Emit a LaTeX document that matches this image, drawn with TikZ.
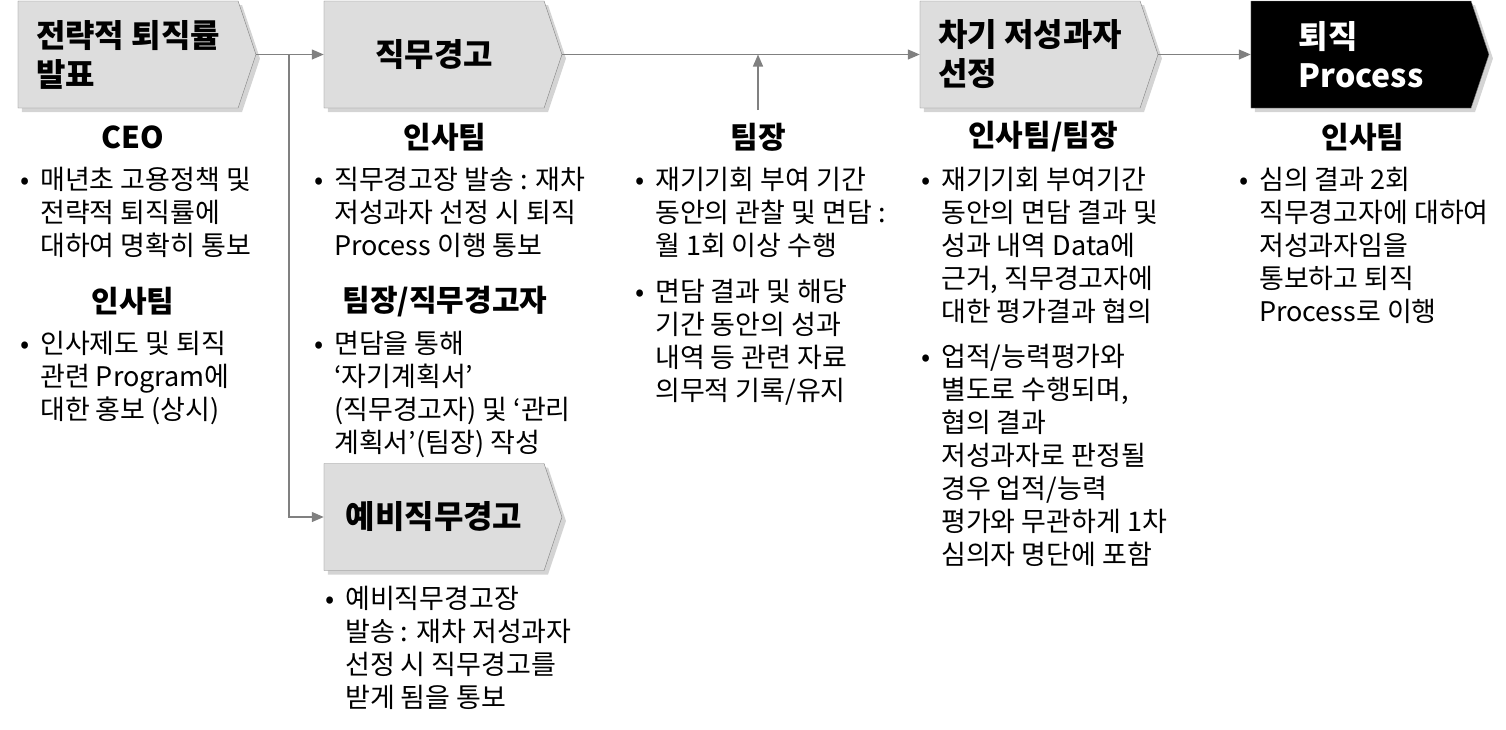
\documentclass[tikz,border=0pt]{standalone}
\usepackage{fontspec}
\setmainfont{Noto Sans CJK KR}
\usetikzlibrary{positioning, arrows.meta, shapes.symbols, shadows}
\definecolor{boxgray}   {RGB}{221, 221, 221}
\definecolor{linegray}  {RGB}{128, 128, 128}
\definecolor{shadowgray}{RGB}{212, 212, 212}
\tikzset{
  stepchev/.style={
    signal, signal to=east, signal pointer angle=143,
    draw=linegray, fill=boxgray,
    minimum width=238pt, minimum height=107pt, inner sep=0pt,
    align=left, font=\fontsize{32}{39}\selectfont\bfseries,
    drop shadow={shadow xshift=4pt, shadow yshift=-4pt,
                 fill=shadowgray, opacity=1}
  },
  laststep/.style={
    stepchev, fill=black, text=white
  },
  flow/.style={
    -{Triangle[length=12pt, width=10pt]}, draw=linegray, line width=1.3pt
  },
  rolehead/.style={
    font=\fontsize{30}{34}\selectfont\bfseries, inner sep=0pt
  },
  notes/.style={
    anchor=north west, inner sep=0pt, align=left,
    font=\fontsize{27}{33}\selectfont
  },
}
\newcommand{\bul}{\llap{\makebox[20pt][l]{•}}}

\begin{document}
\begin{tikzpicture}[x=1pt, y=-1pt]
  \useasboundingbox (0,0) rectangle (1506,729);

  % Steps
  \node[stepchev] (b1) at (128,54.5)  {전략적 퇴직률\\발표};
  \node[stepchev] (b2) at (434,54.5)  {직무경고};
  \node[stepchev] (b3) at (1030,54.5) {차기 저성과자\\선정};
  \node[laststep] (b4) at (1361,54.5) {퇴직\\Process};
  \node[stepchev] (b5) at (434,517)   {예비직무경고};

  % Flow
  \coordinate (split) at (289,54.5);
  \coordinate (tlfoot) at (758,110);
  \draw[flow] (b1.east) -- (b2.west);
  \draw[flow] (split) |- (b5.west);
  \draw[flow] (b2.east) -- (b3.west);
  \draw[flow] (tlfoot) -- (tlfoot |- b2.east);
  \draw[flow] (b3.east) -- (b4.west);

  % CEO / 인사팀
  \node[rolehead] (r1) at (133,137) {CEO};
  \node[notes] (n1) at (40,167) {\bul 매년초 고용정책 및\\전략적 퇴직률에\\대하여 명확히 통보};
  \node[rolehead] (r1b) at (133,301) {인사팀};
  \node[notes] (n1b) at (40,331) {\bul 인사제도 및 퇴직\\관련 Program에\\대한 홍보 (상시)};

  % 직무경고
  \node[rolehead] (r2) at (445,137) {인사팀};
  \node[notes] (n2) at (334,167) {\bul 직무경고장 발송 : 재차\\저성과자 선정 시 퇴직\\Process 이행 통보};
  \node[rolehead] (r2b) at (445,302) {팀장/직무경고자};
  \node[notes] (n2b) at (334,331) {\bul 면담을 통해\\‘자기계획서’\\(직무경고자) 및 ‘관리\\계획서’(팀장) 작성};
  \node[notes] (n5) at (345,586) {\bul 예비직무경고장\\발송 : 재차 저성과자\\선정 시 직무경고를\\받게 됨을 통보};

  % 팀장
  \node[rolehead] (r3) at (758,137) {팀장};
  \node[notes] (n3) at (655,167) {\bul 재기기회 부여 기간\\동안의 관찰 및 면담 :\\월 1회 이상 수행\\[13pt]
    \bul 면담 결과 및 해당\\기간 동안의 성과\\내역 등 관련 자료\\의무적 기록/유지};

  % 인사팀/팀장
  \node[rolehead] (r4) at (1043,137) {인사팀/팀장};
  \node[notes] (n4) at (941,167) {\bul 재기기회 부여기간\\동안의 면담 결과 및\\성과 내역 Data에\\근거, 직무경고자에\\대한 평가결과 협의\\[12pt]
    \bul 업적/능력평가와\\별도로 수행되며,\\협의 결과\\저성과자로 판정될\\경우 업적/능력\\평가와 무관하게 1차\\심의자 명단에 포함};

  % 퇴직 Process
  \node[rolehead] (r5) at (1363,137) {인사팀};
  \node[notes] (n6) at (1259,167) {\bul 심의 결과 2회\\직무경고자에 대하여\\저성과자임을\\통보하고 퇴직\\Process로 이행};
\end{tikzpicture}
\end{document}
